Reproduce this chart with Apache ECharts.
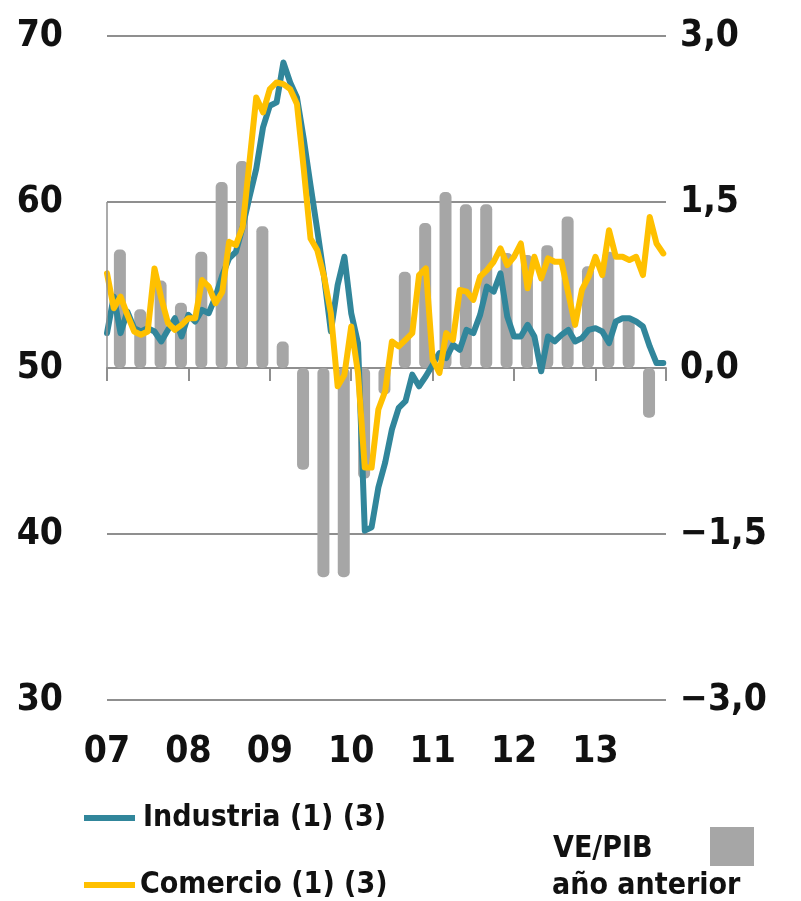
<!DOCTYPE html>
<html>
<head>
<meta charset="utf-8">
<script src="https://cdn.jsdelivr.net/npm/echarts@6/dist/echarts.min.js"></script>
<style>
  html, body { margin: 0; padding: 0; background: #ffffff; }
  #chart { width: 801px; height: 901px; }
</style>
</head>
<body>
<div id="chart"></div>
<script>
// Year labels on the horizontal axis (one tick every 12 months, starting Jan 2007)
const yearLabels = ['07', '08', '09', '10', '11', '12', '13'];

// Monthly confidence index, Industria (Jan 2007 – Nov 2013)
const industria = [
  52.1, 54.3, 52.1, 53.4, 52.4, 52.2, 52.4, 52.2, 51.6, 52.3, 53.0, 51.9,
  53.2, 52.8, 53.5, 53.3, 54.3, 55.6, 56.6, 57.0, 58.5, 60.3, 62.0, 64.5,
  65.8, 66.0, 68.4, 67.2, 66.3, 63.8, 61.0, 58.3, 55.5, 52.2, 55.0, 56.7,
  53.3, 51.5, 40.2, 40.4, 42.8, 44.3, 46.3, 47.6, 48.0, 49.6, 48.9, 49.5,
  50.2, 50.9, 50.6, 51.4, 51.1, 52.3, 52.1, 53.2, 54.9, 54.6, 55.7, 53.1,
  51.9, 51.9, 52.6, 51.9, 49.8, 51.9, 51.6, 52.0, 52.3, 51.6, 51.8, 52.3,
  52.4, 52.2, 51.5, 52.8, 53.0, 53.0, 52.8, 52.5, 51.3, 50.3, 50.3
];

// Monthly confidence index, Comercio (Jan 2007 – Nov 2013)
const comercio = [
  55.7, 53.6, 54.3, 53.2, 52.2, 52.0, 52.2, 56.0, 54.2, 52.7, 52.3, 52.6,
  53.0, 53.0, 55.3, 54.9, 53.9, 54.6, 57.6, 57.4, 58.5, 62.4, 66.3, 65.4,
  66.8, 67.2, 67.1, 66.8, 65.9, 62.0, 57.8, 57.1, 55.5, 53.3, 48.9, 49.6,
  52.5, 49.7, 44.0, 44.0, 47.5, 48.6, 51.6, 51.3, 51.7, 52.1, 55.6, 56.0,
  50.5, 49.7, 52.1, 51.7, 54.7, 54.6, 54.1, 55.5, 55.9, 56.4, 57.2, 56.2,
  56.7, 57.5, 54.8, 56.7, 55.4, 56.6, 56.4, 56.4, 54.5, 52.6, 54.7, 55.5,
  56.7, 55.6, 58.3, 56.7, 56.7, 56.5, 56.7, 55.6, 59.1, 57.5, 56.9
];

// Quarterly VE/PIB, year-on-year (Q1 2007 – Q3 2013), right axis
const vePib = [
  1.07, 0.53, 0.79, 0.59,
  1.05, 1.68, 1.87, 1.28,
  0.24, -0.92, -1.89, -1.89,
  -1.00, -0.24, 0.87, 1.31,
  1.59, 1.48, 1.48, 1.04,
  1.02, 1.11, 1.37, 0.92,
  1.05, 0.45, -0.45
];

const FONT = "'DejaVu Sans Condensed', 'Liberation Sans Narrow', 'Open Sans', sans-serif";
const TEAL = '#31869b';
const GOLD = '#ffc000';
const BAR = '#a6a6a6';
const GRID = '#8f8f8f';
const INK = '#111111';

// month index -> [x, value] pairs
const industriaPts = industria.map((v, i) => [i, v]);
const comercioPts = comercio.map((v, i) => [i, v]);
// each quarter bar sits on the quarter's last month
const vePibPts = vePib.map((v, i) => [i * 3 + 1.9, v]);

const chart = echarts.init(document.getElementById('chart'), null, { renderer: 'canvas' });

const labelStyle = { fontSize: 37, color: INK, fontFamily: FONT, fontWeight: 'bold' };

chart.setOption({
  animation: false,
  backgroundColor: '#ffffff',
  grid: { left: 107, right: 135, top: 36, bottom: 201, containLabel: false },
  xAxis: {
    type: 'value',
    min: 0,
    max: 82.4,
    interval: 12,
    axisLine: { show: true, lineStyle: { color: GRID, width: 2 } },
    axisTick: { show: true, length: 13, lineStyle: { color: GRID, width: 2 } },
    splitLine: { show: false },
    axisLabel: Object.assign({
      margin: 34,
      formatter: v => yearLabels[Math.round(v / 12)] || ''
    }, labelStyle)
  },
  yAxis: [
    {
      type: 'value',
      min: 30,
      max: 70,
      interval: 10,
      position: 'left',
      axisLine: { show: false },
      axisTick: { show: false },
      splitLine: { show: true, lineStyle: { color: GRID, width: 2 } },
      axisLabel: Object.assign({ margin: 44 }, labelStyle)
    },
    {
      type: 'value',
      min: -3,
      max: 3,
      interval: 1.5,
      position: 'right',
      axisLine: { show: false },
      axisTick: { show: false },
      splitLine: { show: false },
      axisLabel: Object.assign({
        margin: 14,
        formatter: v => (v < 0 ? '\u2212' : '') + Math.abs(v).toFixed(1).replace('.', ',')
      }, labelStyle)
    }
  ],
  series: [
    {
      name: 'VE/PIB año anterior',
      type: 'bar',
      yAxisIndex: 1,
      barWidth: 12,
      data: vePibPts,
      itemStyle: { color: BAR, borderRadius: 5 },
      z: 2
    },
    {
      name: 'Industria (1) (3)',
      type: 'line',
      data: industriaPts,
      symbol: 'none',
      lineStyle: { color: TEAL, width: 6, join: 'round', cap: 'round' },
      z: 3,
      markLine: {
        silent: true,
        symbol: 'none',
        label: { show: false },
        lineStyle: { color: GRID, width: 1.5, type: 'solid' },
        data: [[{ coord: [0, 60] }, { coord: [0, 50] }]]
      }
    },
    {
      name: 'Comercio (1) (3)',
      type: 'line',
      data: comercioPts,
      symbol: 'none',
      lineStyle: { color: GOLD, width: 6, join: 'round', cap: 'round' },
      z: 4
    }
  ],
  graphic: [
    { type: 'rect', shape: { x: 84, y: 815, width: 51, height: 6 }, style: { fill: TEAL } },
    { type: 'text', x: 143, y: 818, style: { text: 'Industria (1) (3)', font: 'bold 30px ' + FONT, fill: INK, verticalAlign: 'middle' } },
    { type: 'rect', shape: { x: 84, y: 882, width: 51, height: 6 }, style: { fill: GOLD } },
    { type: 'text', x: 140, y: 885, style: { text: 'Comercio (1) (3)', font: 'bold 30px ' + FONT, fill: INK, verticalAlign: 'middle' } },
    { type: 'text', x: 553, y: 849, style: { text: 'VE/PIB', font: 'bold 30px ' + FONT, fill: INK, verticalAlign: 'middle' } },
    { type: 'text', x: 552, y: 886, style: { text: 'año anterior', font: 'bold 30px ' + FONT, fill: INK, verticalAlign: 'middle' } },
    { type: 'rect', shape: { x: 710, y: 827, width: 44, height: 39 }, style: { fill: BAR } }
  ]
});
</script>
</body>
</html>
